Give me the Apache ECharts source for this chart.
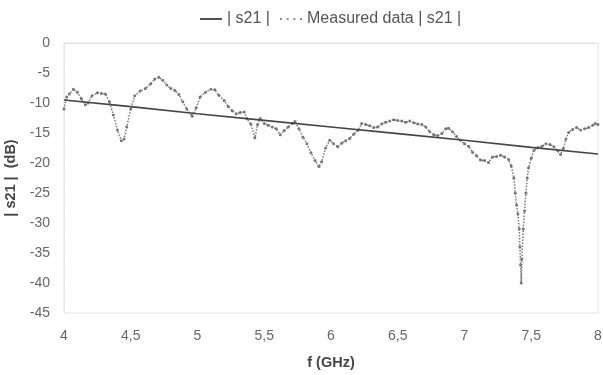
<!DOCTYPE html>
<html>
<head>
<meta charset="utf-8">
<script src="https://cdn.jsdelivr.net/npm/echarts@6/dist/echarts.min.js"></script>
<style>
html,body{margin:0;padding:0;background:#fff;}
#chart{width:603px;height:375px;}
</style>
</head>
<body>
<div id="chart"></div>
<script>
// model |s21| (straight line)
var modelFreq = [4, 4.5, 5, 5.5, 6, 6.5, 7, 7.5, 8];
var modelS21 = [-9.5, -10.6, -11.8, -12.9, -14.0, -15.1, -16.2, -17.4, -18.5];

// measured |s21|
var measFreq = [4.00,4.02,4.04,4.07,4.10,4.13,4.16,4.18,4.21,4.25,4.28,4.31,4.34,4.37,4.40,4.43,4.45,4.47,4.50,4.53,
    4.57,4.61,4.65,4.68,4.71,4.74,4.77,4.80,4.83,4.86,4.89,4.92,4.96,4.99,5.02,5.06,5.10,5.13,5.16,5.20,
    5.23,5.26,5.29,5.32,5.35,5.37,5.40,5.43,5.45,5.47,5.50,5.53,5.56,5.59,5.62,5.65,5.68,5.71,5.73,5.76,
    5.79,5.82,5.85,5.88,5.91,5.93,5.96,5.99,6.02,6.05,6.08,6.11,6.14,6.17,6.20,6.23,6.26,6.29,6.32,6.35,
    6.38,6.41,6.44,6.47,6.50,6.53,6.56,6.59,6.62,6.65,6.68,6.71,6.74,6.77,6.80,6.83,6.86,6.88,6.91,6.94,
    6.97,7.00,7.03,7.06,7.09,7.12,7.15,7.18,7.21,7.24,7.27,7.30,7.33,7.35,7.37,7.38,7.39,7.40,7.41,7.415,
    7.42,7.425,7.43,7.44,7.45,7.46,7.47,7.48,7.50,7.52,7.55,7.58,7.61,7.64,7.67,7.70,7.72,7.74,7.76,7.78,
    7.81,7.84,7.87,7.90,7.93,7.96,7.98,8.00];
var measS21 = [-11.0,-9.0,-8.5,-7.7,-8.2,-9.3,-10.3,-10.0,-8.8,-8.3,-8.4,-8.5,-9.8,-12.0,-14.5,-16.3,-16.0,-14.0,-11.0,-8.8,
    -8.0,-7.6,-6.8,-6.0,-5.7,-6.2,-7.0,-7.6,-7.9,-8.6,-9.8,-11.0,-12.2,-10.8,-9.0,-8.2,-7.7,-7.8,-8.7,-9.6,
    -10.6,-11.3,-11.8,-11.6,-11.5,-12.6,-13.5,-15.8,-13.6,-12.6,-13.4,-13.7,-14.0,-14.3,-15.3,-14.6,-14.0,-13.4,-13.1,-14.3,
    -15.7,-16.8,-18.3,-19.6,-20.6,-19.8,-17.5,-16.2,-16.8,-17.3,-16.7,-16.3,-15.9,-15.2,-14.6,-13.4,-13.6,-13.8,-14.1,-14.0,
    -13.5,-13.2,-13.0,-12.8,-12.9,-13.0,-13.2,-13.0,-13.3,-13.5,-13.6,-14.0,-14.8,-15.3,-15.4,-15.1,-14.3,-14.2,-14.8,-15.6,
    -16.2,-16.8,-17.2,-18.2,-18.8,-19.5,-19.6,-19.9,-19.0,-18.9,-18.7,-19.0,-19.4,-20.5,-22.5,-25.0,-27.0,-28.5,-31.0,-34.0,
    -37.0,-40.0,-36.0,-31.0,-28.0,-25.0,-22.5,-20.8,-19.2,-17.9,-17.4,-17.2,-16.8,-16.9,-17.3,-18.0,-18.6,-17.6,-16.0,-14.9,
    -14.4,-14.1,-14.5,-14.3,-14.1,-13.7,-13.4,-13.6];

function pairs(xs, ys) {
    var out = [];
    for (var i = 0; i < xs.length; i++) {
        out.push([xs[i], ys[i]]);
    }
    return out;
}

var myChart = echarts.init(document.getElementById('chart'));
var option = {
    animation: false,
    textStyle: {fontFamily: 'Liberation Sans'},
    legend: {
        top: 6,
        left: 195,
        itemWidth: 22,
        itemHeight: 2,
        itemGap: 10,
        textStyle: {fontSize: 16, color: '#555'},
        data: [
            {name: '| s21 |', icon: 'path://M0,0h24v2h-24z', itemStyle: {color: '#444'}},
            {name: 'Measured data | s21 |', icon: 'path://M0,0h2v2h-2zM7,0h2v2h-2zM14,0h2v2h-2zM21,0h2v2h-2z', itemStyle: {color: '#888'}}
        ]
    },
    grid: {
        left: 64, right: 5, top: 43, bottom: 62,
        outerBoundsMode: 'none',
        show: true, borderColor: '#e4e4e4', borderWidth: 1
    },
    xAxis: {
        type: 'value',
        min: 4, max: 8, interval: 0.5,
        name: 'f (GHz)',
        nameLocation: 'middle',
        nameGap: 42,
        nameTextStyle: {fontSize: 14.5, fontWeight: 'bold', color: '#444'},
        axisLine: {lineStyle: {color: '#ddd', type: 'dashed'}},
        axisTick: {show: false},
        splitLine: {show: false},
        axisLabel: {
            fontSize: 14, color: '#666', margin: 16,
            formatter: function (v) { return String(v).replace('.', ','); }
        }
    },
    yAxis: {
        type: 'value',
        min: -45, max: 0, interval: 5,
        name: '| s21 |  (dB)',
        nameLocation: 'middle',
        nameGap: 39,
        nameTextStyle: {fontSize: 14.5, fontWeight: 'bold', color: '#444'},
        axisLine: {show: true, lineStyle: {color: '#e4e4e4', type: 'dashed'}},
        axisTick: {show: false},
        splitLine: {show: false},
        axisLabel: {fontSize: 14, color: '#666', margin: 14}
    },
    series: [
        {
            name: '| s21 |',
            type: 'line',
            data: pairs(modelFreq, modelS21),
            symbol: 'none',
            lineStyle: {color: '#444', width: 1.6},
            itemStyle: {color: '#444'},
            z: 3
        },
        {
            name: 'Measured data | s21 |',
            type: 'line',
            data: pairs(measFreq, measS21),
            symbol: 'circle',
            symbolSize: 3,
            lineStyle: {color: '#777', width: 1.5, type: 'dotted'},
            itemStyle: {color: '#777'},
            z: 2
        }
    ]
};
myChart.setOption(option);
</script>
</body>
</html>
